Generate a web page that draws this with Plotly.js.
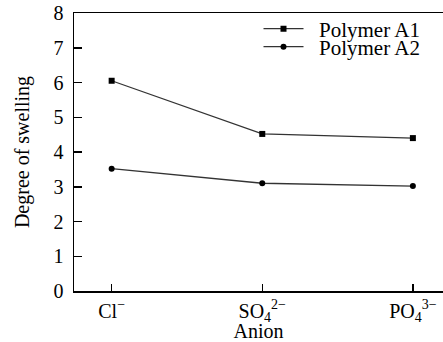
<!DOCTYPE html>
<html>
<head>
<meta charset="utf-8">
<script src="https://cdn.plot.ly/plotly-3.0.1.min.js"></script>
<style>html,body{margin:0;padding:0;background:#fff;}#chart{width:443px;height:342px;}</style>
</head>
<body>
<div id="chart"></div>
<script>
const anions = ["Cl<sup>−</sup>", "SO<sub>4</sub><sup>2−</sup>", "PO<sub>4</sub><sup>3−</sup>"];
const polymerA1 = [6.05, 4.52, 4.40];
const polymerA2 = [3.52, 3.10, 3.02];
const yTicks = [0, 1, 2, 3, 4, 5, 6, 7, 8];

const xIdx = anions.map((_, i) => i);
const fam = "Liberation Serif, Times New Roman, serif";
const tickFont = {family: fam, size: 20, color: "#000"};
const titleFont = {family: fam, size: 20, color: "#000"};
const legFont = {family: fam, size: 21, color: "#000"};

const traces = [
  {x: xIdx, y: polymerA1, name: "\u00a0\u00a0Polymer A1", type: "scatter", mode: "lines+markers", legend: "legend",
   line: {color: "#333", width: 1.3}, marker: {symbol: "square", size: 6, color: "#000"}},
  {x: xIdx, y: polymerA2, name: "\u00a0\u00a0Polymer A2", type: "scatter", mode: "lines+markers", legend: "legend2",
   line: {color: "#333", width: 1.3}, marker: {symbol: "circle", size: 6, color: "#000"}}
];

const legBase = {xanchor: "left", yanchor: "middle", bgcolor: "rgba(0,0,0,0)", font: legFont, itemwidth: 40,
                 borderwidth: 0};

const layout = {
  width: 443, height: 342,
  margin: {l: 74, r: 0, t: 13, b: 51},
  paper_bgcolor: "#fff", plot_bgcolor: "#fff",
  font: tickFont,
  showlegend: true,
  legend: Object.assign({}, legBase, {x: 0.5, y: (291 - 29) / 278}),
  legend2: Object.assign({}, legBase, {x: 0.5, y: (291 - 47) / 278}),
  xaxis: {
    range: [-0.25, 2.2], tickmode: "array", tickvals: xIdx, ticktext: anions,
    ticks: "inside", ticklen: 7, tickwidth: 1.5, tickcolor: "#000",
    showline: true, linecolor: "#000", linewidth: 1.5, mirror: true,
    showgrid: false, zeroline: false,
    title: {text: "Anion", font: titleFont, standoff: 0},
    tickfont: tickFont, ticklabelstandoff: 1
  },
  yaxis: {
    range: [0, 8], tickmode: "array", tickvals: yTicks,
    ticks: "inside", ticklen: 8, tickwidth: 1.5, tickcolor: "#000",
    showline: true, linecolor: "#000", linewidth: 1.5,
    showgrid: false, zeroline: false,
    title: {text: "Degree of swelling", font: titleFont, standoff: 18},
    tickfont: tickFont, ticklabelstandoff: 5
  }
};

Plotly.newPlot("chart", traces, layout, {displayModeBar: false, staticPlot: true});
</script>
</body>
</html>
